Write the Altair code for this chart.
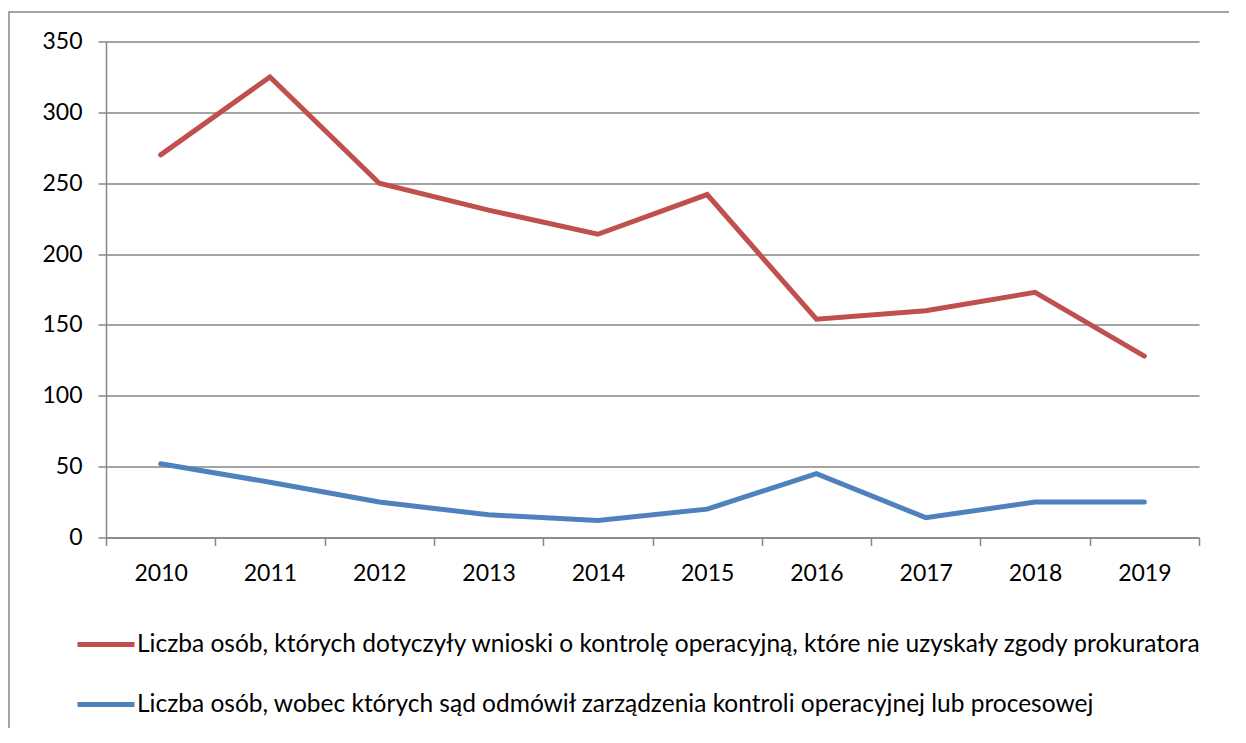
import altair as alt
import pandas as pd

years = ["2010", "2011", "2012", "2013", "2014", "2015", "2016", "2017", "2018", "2019"]
red_values = [270, 325, 250, 231, 214, 242, 154, 160, 173, 128]
blue_values = [52, 39, 25, 16, 12, 20, 45, 14, 25, 25]
series_names = [
    "Liczba osób, których dotyczyły wnioski o kontrolę operacyjną, które nie uzyskały zgody prokuratora",
    "Liczba osób, wobec których sąd odmówił zarządzenia kontroli operacyjnej lub procesowej",
]
series_colors = ["#C0504D", "#4F81BD"]
y_ticks = [0, 50, 100, 150, 200, 250, 300, 350]

rows = []
for y, v in zip(years, red_values):
    rows.append({"rok": y, "wartosc": v, "seria": series_names[0]})
for y, v in zip(years, blue_values):
    rows.append({"rok": y, "wartosc": v, "seria": series_names[1]})
df = pd.DataFrame(rows)

FONT = "Lato"
GRAY = "#868686"

lines = alt.Chart(df).mark_line(strokeWidth=5, strokeCap="round", strokeJoin="miter").encode(
    x=alt.X("rok:N", sort=years, bandPosition=0.5,
            scale=alt.Scale(type="band", paddingInner=0, paddingOuter=0),
            axis=alt.Axis(title=None, labelAngle=0, tickBand="extent", grid=False,
                          tickSize=8, tickColor=GRAY, tickWidth=1.5,
                          domainColor=GRAY, domainWidth=1.5,
                          labelFont=FONT, labelFontSize=23, labelColor="#000000",
                          labelPadding=17)),
    y=alt.Y("wartosc:Q", scale=alt.Scale(domain=[0, 350], nice=False, zero=True),
            axis=alt.Axis(title=None, values=y_ticks, grid=True, gridColor=GRAY, gridWidth=1.5,
                          tickSize=8, tickColor=GRAY, tickWidth=1.5,
                          domainColor=GRAY, domainWidth=1.5,
                          labelFont=FONT, labelFontSize=23, labelColor="#000000",
                          labelPadding=16)),
    color=alt.Color("seria:N",
                    scale=alt.Scale(domain=series_names, range=series_colors),
                    legend=alt.Legend(title=None, orient="none", legendX=-31, legendY=572,
                                      symbolType="stroke", symbolSize=3249, symbolStrokeWidth=5,
                                      labelFont=FONT, labelFontSize=24.5, labelColor="#000000",
                                      labelLimit=3000, labelOffset=0, rowPadding=17,
                                      direction="vertical")),
    order=alt.Order("rok:N"),
)

frame = alt.Chart(pd.DataFrame({"a": [0]})).mark_rect(
    filled=False, stroke=GRAY, strokeWidth=1.5, clip=False
).encode(
    x=alt.value(-97), x2=alt.value(1160), y=alt.value(-29.5), y2=alt.value(720)
)

chart = alt.layer(frame, lines).properties(
    width=1093, height=496,
    autosize=alt.AutoSizeParams(type="none"),
    padding={"left": 98, "top": 33.5, "right": 30, "bottom": 190},
    background="#ffffff",
).configure_view(stroke=None)

chart.save("out.html", embed_options={"renderer": "svg", "actions": False})
